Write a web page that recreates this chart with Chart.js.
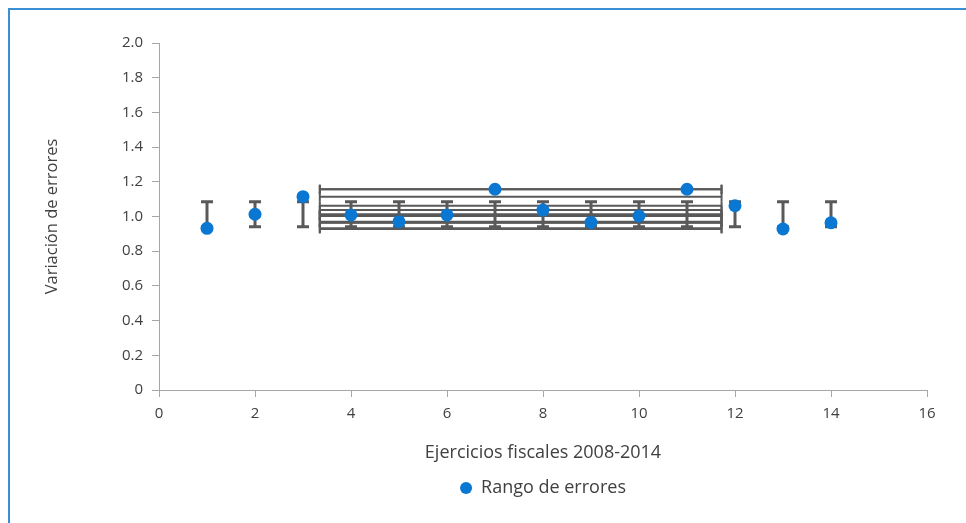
<!DOCTYPE html>
<html lang="es">
<head>
<meta charset="utf-8">
<title>Rango de errores</title>
<script src="https://cdn.jsdelivr.net/npm/chart.js@4.4.1/dist/chart.umd.min.js"></script>
<style>
  html, body { margin: 0; padding: 0; background: #fff; }
  #wrap { position: relative; width: 966px; height: 523px; }
  #frame {
    position: absolute; left: 8px; top: 8px; right: 0; bottom: 0;
    border-top: 2px solid #3b8fd5; border-left: 2px solid #3b8fd5;
    pointer-events: none;
  }
  canvas { position: absolute; left: 0; top: 0; }
</style>
</head>
<body>
<div id="wrap">
  <canvas id="errChart" width="966" height="523"></canvas>
  <div id="frame"></div>
</div>
<script>
// ejercicios (eje x) y variación observada
const ejercicios = [1, 2, 3, 4, 5, 6, 7, 8, 9, 10, 11, 12, 13, 14];
const variacion = [0.932, 1.013, 1.114, 1.009, 0.970, 1.009, 1.157, 1.037, 0.966, 1.003, 1.157, 1.062, 0.928, 0.964];

// barras verticales: mismo rango para cada ejercicio
const errorInf = [0.941, 0.941, 0.941, 0.941, 0.941, 0.941, 0.941, 0.941, 0.941, 0.941, 0.941, 0.941, 0.941, 0.941];
const errorSup = [1.085, 1.085, 1.085, 1.085, 1.085, 1.085, 1.085, 1.085, 1.085, 1.085, 1.085, 1.085, 1.085, 1.085];

// barras horizontales (comunes a todos los puntos)
const errorXInf = 3.35;
const errorXSup = 11.72;

const xTicks = [0, 2, 4, 6, 8, 10, 12, 14, 16];
const yTicks = [0, 0.2, 0.4, 0.6, 0.8, 1.0, 1.2, 1.4, 1.6, 1.8, 2.0];
const yTickLabels = ["0", "0.2", "0.4", "0.6", "0.8", "1.0", "1.2", "1.4", "1.6", "1.8", "2.0"];

const textColor = "#404040";
const axisColor = "#a6a6a6";
const barColor = "#595959";
const fontFamily = "'Open Sans', sans-serif";

const errorBars = {
  id: "errorBars",
  beforeDatasetsDraw(chart) {
    const ctx = chart.ctx;
    const xs = chart.scales.x;
    const ys = chart.scales.y;
    ctx.save();
    ctx.strokeStyle = barColor;

    // horizontales
    ctx.lineWidth = 2;
    const xa = xs.getPixelForValue(errorXInf);
    const xb = xs.getPixelForValue(errorXSup);
    variacion.forEach(v => {
      const y = ys.getPixelForValue(v);
      ctx.beginPath();
      ctx.moveTo(xa, y); ctx.lineTo(xb, y);
      ctx.moveTo(xa, y - 4.5); ctx.lineTo(xa, y + 4.5);
      ctx.moveTo(xb, y - 4.5); ctx.lineTo(xb, y + 4.5);
      ctx.stroke();
    });

    // verticales
    ctx.lineWidth = 3;
    ejercicios.forEach((e, i) => {
      const x = xs.getPixelForValue(e);
      const y1 = ys.getPixelForValue(errorInf[i]);
      const y2 = ys.getPixelForValue(errorSup[i]);
      ctx.beginPath();
      ctx.moveTo(x, y1); ctx.lineTo(x, y2);
      ctx.moveTo(x - 6, y1); ctx.lineTo(x + 6, y1);
      ctx.moveTo(x - 6, y2); ctx.lineTo(x + 6, y2);
      ctx.stroke();
    });
    ctx.restore();
  }
};

new Chart(document.getElementById("errChart"), {
  type: "scatter",
  data: {
    datasets: [{
      label: "Rango de errores",
      data: ejercicios.map((e, i) => ({ x: e, y: variacion[i] })),
      backgroundColor: "#0a78d2",
      borderWidth: 0,
      pointRadius: 6.5,
      pointHoverRadius: 6.5
    }]
  },
  options: {
    responsive: false,
    animation: false,
    events: [],
    layout: { padding: { left: 30, right: 39, top: 43, bottom: 16 } },
    plugins: {
      tooltip: { enabled: false },
      legend: {
        position: "bottom",
        fullSize: false,
        labels: {
          usePointStyle: true,
          pointStyle: "circle",
          boxWidth: 12,
          boxHeight: 8.5,
          padding: 6,
          color: textColor,
          font: { family: fontFamily, size: 18 }
        }
      }
    },
    scales: {
      x: {
        type: "linear",
        min: 0,
        max: 16,
        afterBuildTicks: s => { s.ticks = xTicks.map(v => ({ value: v })); },
        afterFit: s => { s.height = 83; },
        grid: { drawOnChartArea: false, drawTicks: true, tickLength: 7, color: axisColor },
        border: { color: axisColor, width: 1 },
        ticks: {
          padding: 8,
          color: textColor,
          font: { family: fontFamily, size: 15 }
        },
        title: {
          display: true,
          text: "Ejercicios fiscales 2008-2014",
          color: textColor,
          padding: { top: 4, bottom: 9 },
          font: { family: fontFamily, size: 18 }
        }
      },
      y: {
        min: 0,
        max: 2,
        afterBuildTicks: s => { s.ticks = yTicks.map(v => ({ value: v })); },
        afterFit: s => { s.width = 129; },
        grid: { drawOnChartArea: false, drawTicks: true, tickLength: 7, color: axisColor },
        border: { color: axisColor, width: 1 },
        ticks: {
          padding: 9,
          color: textColor,
          font: { family: fontFamily, size: 15 },
          callback: (v, i) => yTickLabels[i]
        },
        title: {
          display: true,
          text: "Variación de errores",
          color: textColor,
          padding: { top: 12, bottom: 4 },
          font: { family: fontFamily, size: 16.5 }
        }
      }
    }
  },
  plugins: [errorBars]
});
</script>
</body>
</html>
